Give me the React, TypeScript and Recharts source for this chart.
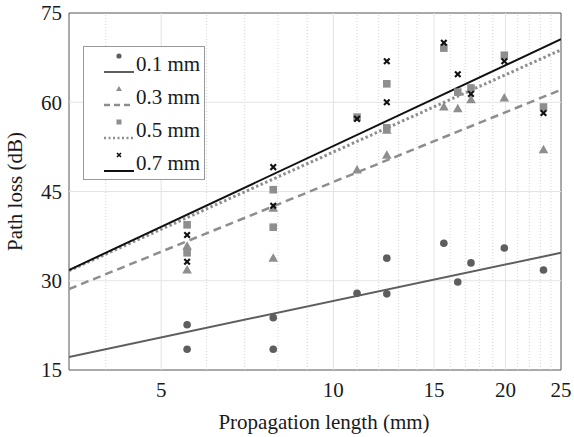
import {
    ComposedChart,
    Scatter,
    XAxis,
    YAxis,
    ReferenceLine,
    ReferenceArea,
    Legend,
} from 'recharts';

// measured points: every thickness shares the same propagation lengths
const pointLengths = [5.55, 5.55, 7.85, 7.85, 11.0, 12.4, 12.4, 15.6, 16.5, 17.4, 19.9, 23.3];
const loss01 = [22.6, 18.5, 23.8, 18.5, 27.9, 33.8, 27.8, 36.3, 29.8, 33.0, 35.5, 31.8];
const loss03 = [35.8, 31.8, 42.2, 33.8, 48.6, 55.3, 51.1, 59.2, 58.9, 60.4, 60.7, 52.0];
const loss05 = [39.4, 34.7, 45.3, 39.0, 57.5, 63.1, 55.7, 69.1, 61.7, 62.4, 67.9, 59.2];
const loss07 = [37.7, 33.2, 49.1, 42.6, 57.2, 66.9, 60.0, 70.0, 64.7, 61.4, 66.9, 58.2];

// fitted lines, read at both ends of the axis
const fitLengths = [3.45, 25];
const fit01 = [17.2, 34.7];
const fit03 = [28.6, 62.1];
const fit05 = [31.7, 68.8];
const fit07 = [31.8, 70.6];

const seriesNames = ['0.1 mm', '0.3 mm', '0.5 mm', '0.7 mm'];
const xTicks = [5, 10, 15, 20, 25];
const xMinorTicks = [4, 6, 7, 8, 9, 11, 12, 13, 14, 16, 17, 18, 19, 21, 22, 23, 24];
const yTicks = [15, 30, 45, 60, 75];

const FONT = 'Liberation Serif';
const FS = 21;
const DARK = '#5e5e5e';
const GREY = '#8e8e8e';
const INK = '#1a1a1a';

const toPoints = (xs: number[], ys: number[]) => xs.map((x, i) => ({ x, y: ys[i] }));

const Dot = (p: any) => <circle cx={p.cx} cy={p.cy} r={3.8} fill={DARK} />;
const Tri = (p: any) => (
    <polygon
        points={`${p.cx},${p.cy - 5} ${p.cx - 4.8},${p.cy + 3.5} ${p.cx + 4.8},${p.cy + 3.5}`}
        fill={GREY}
    />
);
const Sq = (p: any) => <rect x={p.cx - 3.8} y={p.cy - 3.8} width={7.6} height={7.6} fill={GREY} />;
const Ex = (p: any) => (
    <g stroke="#111" strokeWidth={2.1}>
        <line x1={p.cx - 2.8} y1={p.cy - 2.8} x2={p.cx + 2.8} y2={p.cy + 2.8} />
        <line x1={p.cx - 2.8} y1={p.cy + 2.8} x2={p.cx + 2.8} y2={p.cy - 2.8} />
    </g>
);
const Nothing = () => <g />;

const legendLines = [
    { stroke: DARK, dash: undefined, width: 2 },
    { stroke: GREY, dash: '6 4', width: 2.5 },
    { stroke: GREY, dash: '2 2.5', width: 2.5 },
    { stroke: '#111', dash: undefined, width: 2 },
];

const LegendBox = () => (
    <svg width={122} height={134} style={{ display: 'block' }}>
        <rect x={0.5} y={0.5} width={121} height={133} fill="#fff" stroke="#999" />
        {seriesNames.map((name, i) => {
            const top = i * 33;
            const mx = 36;
            const my = top + 10;
            return (
                <g key={name}>
                    {i === 0 && <circle cx={mx} cy={my} r={2.6} fill={DARK} />}
                    {i === 1 && (
                        <polygon points={`${mx},${my - 3} ${mx - 3},${my + 2} ${mx + 3},${my + 2}`} fill={GREY} />
                    )}
                    {i === 2 && <rect x={mx - 2.5} y={my - 2.5} width={5} height={5} fill={GREY} />}
                    {i === 3 && (
                        <g stroke="#111" strokeWidth={1.6}>
                            <line x1={mx - 2} y1={my - 2} x2={mx + 2} y2={my + 2} />
                            <line x1={mx - 2} y1={my + 2} x2={mx + 2} y2={my - 2} />
                        </g>
                    )}
                    <line
                        x1={21}
                        x2={51}
                        y1={top + 26}
                        y2={top + 26}
                        stroke={legendLines[i].stroke}
                        strokeWidth={legendLines[i].width}
                        strokeDasharray={legendLines[i].dash}
                    />
                    <text x={53} y={top + 25} fontFamily={FONT} fontSize={FS} fill={INK}>
                        {name}
                    </text>
                </g>
            );
        })}
    </svg>
);

const XTitle = (props: any) => {
    const vb = props.viewBox;
    return (
        <text
            x={vb.x + vb.width / 2 + 9}
            y={vb.y + vb.height - 8}
            textAnchor="middle"
            fontFamily={FONT}
            fontSize={FS}
            fill={INK}
        >
            Propagation length (mm)
        </text>
    );
};

const App = () => {
    const tickStyle = { fontFamily: FONT, fontSize: FS, fill: INK };

    return (
        <div style={{ position: 'absolute', left: 0, top: 0, background: '#fff' }}>
            <ComposedChart width={574} height={437} margin={{ top: 13, right: 13, left: 0, bottom: 0 }}>
                <XAxis
                    type="number"
                    dataKey="x"
                    scale="log"
                    domain={[3.45, 25]}
                    allowDataOverflow
                    ticks={xTicks}
                    height={67}
                    axisLine={false}
                    tickLine={false}
                    tickSize={0}
                    tickMargin={12}
                    tick={tickStyle}
                    label={{ content: XTitle }}
                />
                <YAxis
                    type="number"
                    dataKey="y"
                    domain={[15, 75]}
                    allowDataOverflow
                    ticks={yTicks}
                    width={69}
                    axisLine={false}
                    tickLine={false}
                    tickSize={0}
                    tickMargin={7}
                    tick={tickStyle}
                    label={{
                        value: 'Path loss (dB)',
                        angle: -90,
                        position: 'insideLeft',
                        offset: 15,
                        style: { fontFamily: FONT, fontSize: FS, fill: INK, textAnchor: 'middle' },
                    }}
                />
                {xMinorTicks.map((v) => (
                    <ReferenceLine key={'m' + v} x={v} stroke="#d4d4d4" strokeDasharray="1 2" />
                ))}
                {xTicks.slice(0, 4).map((v) => (
                    <ReferenceLine key={'x' + v} x={v} stroke="#e3e3e3" />
                ))}
                {yTicks.slice(1, 4).map((v) => (
                    <ReferenceLine key={'y' + v} y={v} stroke="#e3e3e3" />
                ))}

                <Scatter
                    data={toPoints(fitLengths, fit01)}
                    shape={Nothing}
                    line={{ stroke: DARK, strokeWidth: 2 }}
                    legendType="none"
                    isAnimationActive={false}
                />
                <Scatter
                    data={toPoints(fitLengths, fit03)}
                    shape={Nothing}
                    line={{ stroke: GREY, strokeWidth: 2.5, strokeDasharray: '8 5' }}
                    legendType="none"
                    isAnimationActive={false}
                />
                <Scatter
                    data={toPoints(fitLengths, fit05)}
                    shape={Nothing}
                    line={{ stroke: GREY, strokeWidth: 3, strokeDasharray: '2.5 2.5' }}
                    legendType="none"
                    isAnimationActive={false}
                />
                <Scatter
                    data={toPoints(fitLengths, fit07)}
                    shape={Nothing}
                    line={{ stroke: '#111', strokeWidth: 2 }}
                    legendType="none"
                    isAnimationActive={false}
                />

                <Scatter name={seriesNames[0]} data={toPoints(pointLengths, loss01)} shape={Dot} isAnimationActive={false} />
                <Scatter name={seriesNames[1]} data={toPoints(pointLengths, loss03)} shape={Tri} isAnimationActive={false} />
                <Scatter name={seriesNames[2]} data={toPoints(pointLengths, loss05)} shape={Sq} isAnimationActive={false} />
                <Scatter name={seriesNames[3]} data={toPoints(pointLengths, loss07)} shape={Ex} isAnimationActive={false} />

                <ReferenceArea x1={3.45} x2={25} y1={15} y2={75} fill="none" stroke="#555" strokeWidth={1} />

                <Legend
                    layout="vertical"
                    align="center"
                    verticalAlign="middle"
                    content={LegendBox}
                    wrapperStyle={{ left: 83, top: 46, width: 122, height: 134 }}
                />
            </ComposedChart>
        </div>
    );
};

export default App;
